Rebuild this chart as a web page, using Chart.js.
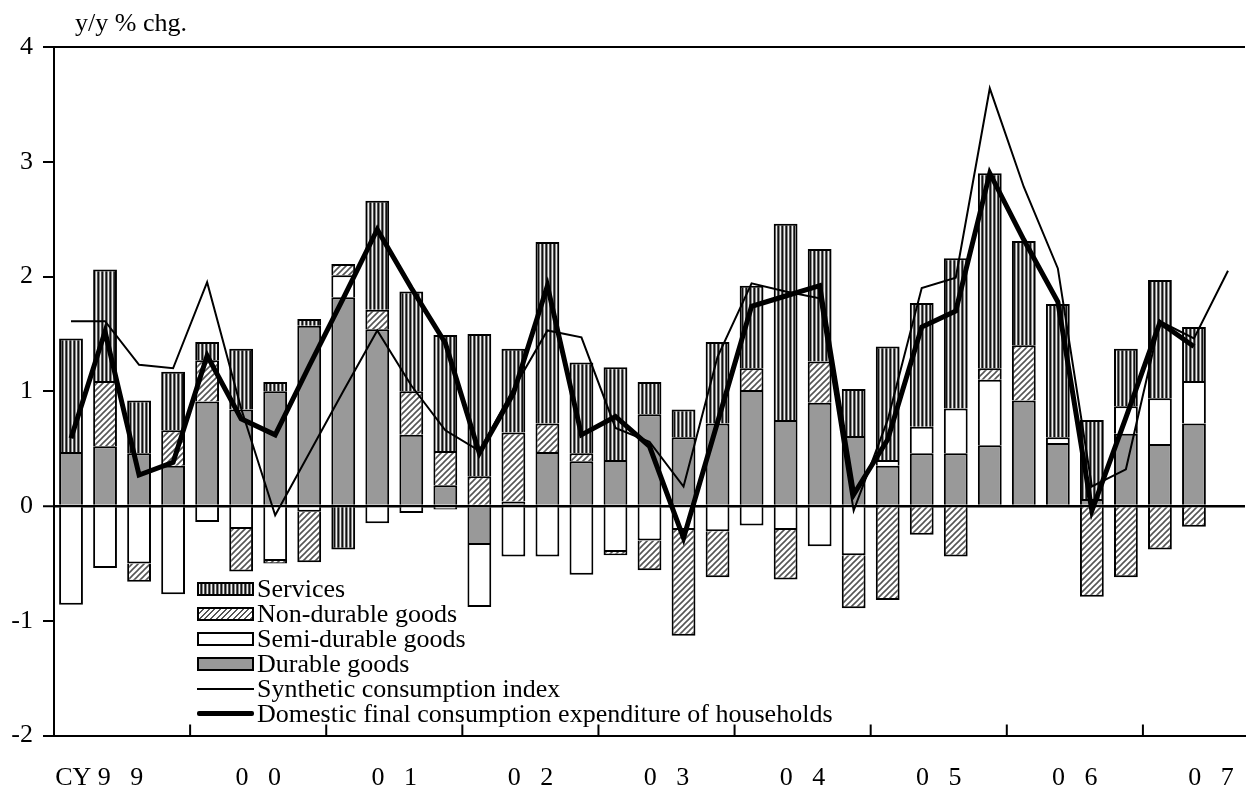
<!DOCTYPE html>
<html>
<head>
<meta charset="utf-8">
<script src="https://cdn.jsdelivr.net/npm/chart.js@4.4.0/dist/chart.umd.min.js"></script>
<style>
    body { margin: 0; background: #fff; }
    #wrap { position: relative; width: 1255px; height: 793px; }
    #unit { position: absolute; left: 75px; top: 8px; font: 26px 'Liberation Serif', 'Times New Roman', serif; }
    #legend { position: absolute; left: 197px; top: 576px; font: 26px 'Liberation Serif', 'Times New Roman', serif; }
    .row { display: flex; align-items: center; height: 25px; line-height: 25px; white-space: nowrap; }
    .sw { width: 57px; height: 14px; border: 2px solid #000; box-sizing: border-box; margin-right: 3px; }
    .services { background: repeating-linear-gradient(90deg, #f0f0f0 0 1px, #555 1px 2px, #111 2px 3px, #888 3px 4px); }
    .nondur { background: repeating-linear-gradient(135deg, #fff 0 2.5px, #555 2.5px 4px); }
    .semidur { background: #fff; }
    .dur { background: #999; }
    .ln { width: 57px; margin-right: 3px; background: #000; }
</style>
</head>
<body>
<div id="wrap">
    <canvas id="myChart" width="1255" height="793"></canvas>
    <div id="unit">y/y % chg.</div>
    <div id="legend">
        <div class="row"><span class="sw services"></span>Services</div>
        <div class="row"><span class="sw nondur"></span>Non-durable goods</div>
        <div class="row"><span class="sw semidur"></span>Semi-durable goods</div>
        <div class="row"><span class="sw dur"></span>Durable goods</div>
        <div class="row"><span class="ln" style="height:2px"></span>Synthetic consumption index</div>
        <div class="row"><span class="ln" style="height:5px;border-radius:2px"></span>Domestic final consumption expenditure of households</div>
    </div>
</div>
<script>
// quarters CY1999Q1 .. CY2007Q3
const quarters = [
    '99Q1', '99Q2', '99Q3', '99Q4', '00Q1', '00Q2', '00Q3', '00Q4',
    '01Q1', '01Q2', '01Q3', '01Q4', '02Q1', '02Q2', '02Q3', '02Q4',
    '03Q1', '03Q2', '03Q3', '03Q4', '04Q1', '04Q2', '04Q3', '04Q4',
    '05Q1', '05Q2', '05Q3', '05Q4', '06Q1', '06Q2', '06Q3', '06Q4',
    '07Q1', '07Q2', '07Q3'
];
const yearLabels = ['CY 9   9       ', '0   0', '0   1', '0   2', '0   3', '0   4', '0   5', '0   6', '0   7'];

const durable = [
    0.47, 0.52, 0.46, 0.35, 0.91, 0.84, 1.00, 1.57,
    1.82, 1.54, 0.62, 0.18, -0.34, 0.04, 0.47, 0.39,
    0.40, 0.80, 0.60, 0.72, 1.01, 0.75, 0.90, 0.61,
    0.35, 0.46, 0.46, 0.53, 0.92, 0.55, 0.06, 0.63,
    0.54, 0.72, null
];
const semiDurable = [
    -0.86, -0.54, -0.50, -0.77, -0.14, -0.20, -0.48, -0.05,
    0.19, -0.15, -0.06, -0.03, -0.54, -0.44, -0.44, -0.60,
    -0.40, -0.30, -0.21, -0.22, -0.17, -0.21, -0.35, -0.43,
    0.05, 0.23, 0.39, 0.57, null, 0.05, null, 0.24,
    0.40, 0.37, null
];
const nonDurable = [
    null, 0.57, -0.16, 0.31, 0.36, -0.37, -0.02, -0.44,
    0.10, 0.17, 0.38, 0.30, 0.26, 0.60, 0.25, 0.07,
    -0.03, -0.26, -0.92, -0.40, 0.19, -0.43, 0.36, -0.46,
    -0.82, -0.25, -0.44, 0.10, 0.48, null, -0.79, -0.62,
    -0.38, -0.18, null
];
const services = [
    0.99, 0.97, 0.46, 0.51, 0.16, 0.53, 0.08, 0.06,
    -0.38, 0.95, 0.87, 1.01, 1.24, 0.73, 1.58, 0.79,
    0.81, 0.28, 0.24, 0.71, 0.72, 1.71, 0.98, 0.41,
    0.99, 1.08, 1.31, 1.70, 0.91, 1.16, 0.69, 0.50,
    1.03, 0.47, null
];
const synthetic = [
    1.61, 1.61, 1.23, 1.20, 1.95, 0.85, -0.08, 0.46,
    1.00, 1.53, 1.05, 0.66, 0.48, 1.02, 1.53, 1.47,
    0.68, 0.56, 0.17, 1.30, 1.94, 1.87, 1.81, -0.04,
    0.75, 1.90, 1.99, 3.64, 2.78, 2.07, 0.17, 0.32,
    1.61, 1.46, 2.05
];
const householdExp = [
    0.59, 1.52, 0.27, 0.38, 1.31, 0.76, 0.62, 1.22,
    1.81, 2.41, 1.90, 1.42, 0.46, 0.98, 1.92, 0.62,
    0.78, 0.52, -0.28, 0.73, 1.74, 1.83, 1.92, 0.10,
    0.58, 1.56, 1.70, 2.90, 2.32, 1.78, -0.04, 0.77,
    1.60, 1.39, null
];

const FONT = "'Liberation Serif', 'Times New Roman', serif";

document.addEventListener("DOMContentLoaded", function() {
    mychart();
})

function stripePattern() {
    const c = document.createElement('canvas');
    c.width = 4; c.height = 4;
    const g = c.getContext('2d');
    const cols = ['#f0f0f0', '#555', '#111', '#888'];
    cols.forEach(function(col, i) {
        g.fillStyle = col;
        g.fillRect(i, 0, 1, 4);
    });
    return g.createPattern(c, 'repeat');
}

function hatchPattern() {
    const c = document.createElement('canvas');
    c.width = 6; c.height = 6;
    const g = c.getContext('2d');
    g.fillStyle = '#fff';
    g.fillRect(0, 0, 6, 6);
    g.strokeStyle = '#555';
    g.lineWidth = 1.6;
    g.beginPath();
    g.moveTo(-1, 7); g.lineTo(7, -1);
    g.moveTo(-1, 1); g.lineTo(1, -1);
    g.moveTo(5, 7); g.lineTo(7, 5);
    g.stroke();
    return g.createPattern(c, 'repeat');
}

// small inward marks between years on the bottom axis
const yearTicks = {
    id: 'yearTicks',
    afterDraw(chart) {
        const x = chart.scales.x;
        const area = chart.chartArea;
        const ctx = chart.ctx;
        const half = (x.getPixelForValue(1) - x.getPixelForValue(0)) / 2;
        ctx.save();
        ctx.strokeStyle = '#000';
        ctx.lineWidth = 2;
        for (let i = 4; i < quarters.length; i += 4) {
            const px = x.getPixelForValue(i) - half;
            ctx.beginPath();
            ctx.moveTo(px, area.bottom);
            ctx.lineTo(px, area.bottom - 11);
            ctx.stroke();
        }
        ctx.restore();
    }
};

function mychart() {
    const barStyle = {
        type: 'bar',
        stack: 'bars',
        borderColor: '#000',
        borderWidth: 2,
        borderSkipped: 'start',
        barPercentage: 0.7,
        categoryPercentage: 1,
        order: 2
    };

    const data = {
        labels: quarters,
        datasets: [
            Object.assign({ label: 'Durable goods', data: durable, backgroundColor: '#999' }, barStyle),
            Object.assign({ label: 'Semi-durable goods', data: semiDurable, backgroundColor: '#fff' }, barStyle),
            Object.assign({ label: 'Non-durable goods', data: nonDurable, backgroundColor: hatchPattern() }, barStyle),
            Object.assign({ label: 'Services', data: services, backgroundColor: stripePattern() }, barStyle),
            {
                type: 'line',
                label: 'Domestic final consumption expenditure of households',
                data: householdExp,
                stack: 'dfce',
                borderColor: '#000',
                borderWidth: 5,
                borderJoinStyle: 'miter',
                pointRadius: 0,
                tension: 0,
                order: 1
            },
            {
                type: 'line',
                label: 'Synthetic consumption index',
                data: synthetic,
                stack: 'syn',
                borderColor: '#000',
                borderWidth: 2,
                borderJoinStyle: 'miter',
                pointRadius: 0,
                tension: 0,
                order: 0
            }
        ]
    };

    new Chart(document.getElementById('myChart'), {
        data: data,
        plugins: [yearTicks],
        options: {
            responsive: false,
            animation: false,
            devicePixelRatio: 1,
            layout: { padding: { top: 47, right: 1, left: 0, bottom: 0 } },
            plugins: {
                legend: false,
                tooltip: { enabled: false }
            },
            scales: {
                x: {
                    stacked: true,
                    afterFit: function(s) { s.height = 57.5; },
                    grid: { display: true, drawOnChartArea: false, drawTicks: false },
                    border: { color: '#000', width: 2 },
                    ticks: {
                        autoSkip: false,
                        maxRotation: 0,
                        minRotation: 0,
                        padding: 27,
                        labelOffset: 17,
                        color: '#000',
                        font: { family: FONT, size: 26 },
                        callback: function(v, i) {
                            return i % 4 === 1 ? yearLabels[(i - 1) / 4] : '';
                        }
                    }
                },
                y: {
                    stacked: true,
                    min: -2,
                    max: 4,
                    afterFit: function(s) { s.width = 54; },
                    ticks: {
                        stepSize: 1,
                        padding: 10,
                        color: '#000',
                        font: { family: FONT, size: 26 }
                    },
                    grid: {
                        color: function(ctx) {
                            const v = ctx.tick ? ctx.tick.value : null;
                            return (v === 4 || v === 0 || v === -2) ? '#000' : 'rgba(0,0,0,0)';
                        },
                        lineWidth: function(ctx) {
                            return ctx.tick && ctx.tick.value === 0 ? 2.5 : 2;
                        },
                        tickColor: '#000',
                        tickLength: 11,
                        tickWidth: 2
                    },
                    border: { color: '#000', width: 2 }
                }
            }
        }
    });
}
</script>
</body>
</html>
